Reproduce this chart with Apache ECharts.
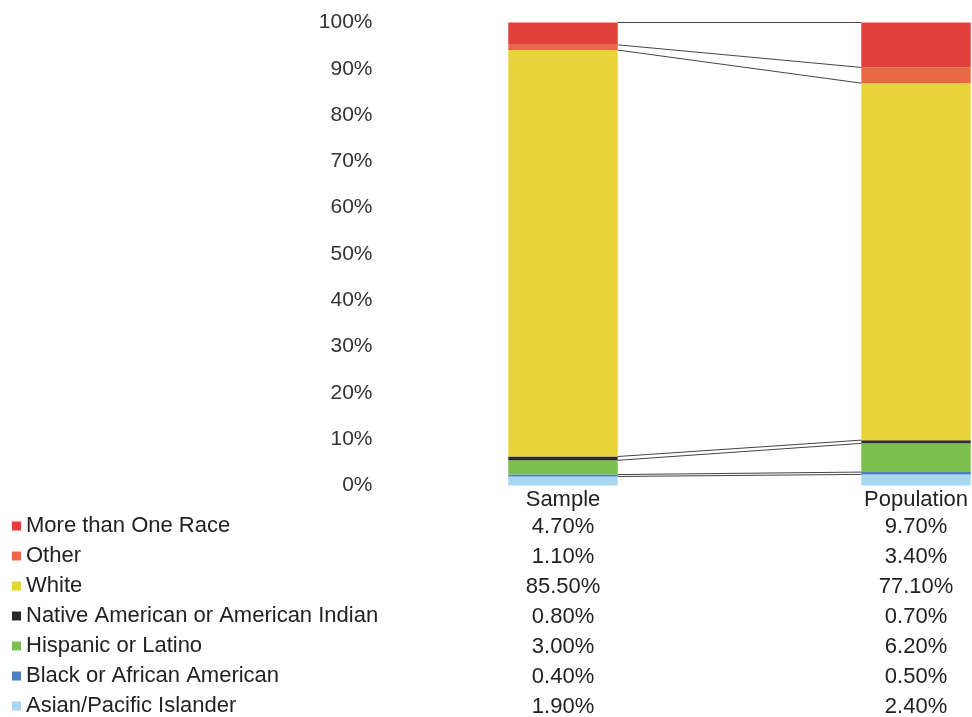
<!DOCTYPE html>
<html><head><meta charset="utf-8">
<script src="https://cdn.jsdelivr.net/npm/echarts@6/dist/echarts.min.js"></script>
<style>html,body{margin:0;padding:0;background:#fff}#c{width:972px;height:717px}</style>
</head><body><div id="c"></div>
<script>
// Data (bottom of stack first)
var categories = ['Sample', 'Population'];
var seriesNames = ['Asian/Pacific Islander', 'Black or African American', 'Hispanic or Latino', 'Native American or American Indian', 'White', 'Other', 'More than One Race'];
var asian = [1.9, 2.4];
var black = [0.4, 0.5];
var hispanic = [3.0, 6.2];
var native = [0.8, 0.7];
var white = [85.5, 77.1];
var other = [1.1, 3.4];
var moreThanOne = [4.7, 9.7];
var yTicks = [0, 10, 20, 30, 40, 50, 60, 70, 80, 90, 100];
var legendOrder = ['More than One Race', 'Other', 'White', 'Native American or American Indian', 'Hispanic or Latino', 'Black or African American', 'Asian/Pacific Islander'];

var raw = [asian, black, hispanic, native, white, other, moreThanOne];
var colors = ['#A9D6F0', '#4A7FC0', '#7CBF4C', '#2A2A2A', '#E6D43A', '#E86A45', '#E2403A'];
var totals = categories.map(function (c, i) { return raw.reduce(function (s, a) { return s + a[i]; }, 0); });
var norm = raw.map(function (a) { return a.map(function (v, i) { return v / totals[i] * 100; }); });

// cumulative boundaries for series lines (top of each segment)
var bounds = [];
var cum = [0, 0];
norm.forEach(function (a) { cum = [cum[0] + a[0], cum[1] + a[1]]; bounds.push([cum[0], cum[1]]); });

var FONT = 'Liberation Sans, Arial, sans-serif';
var BARW = 0.31;
var chart = echarts.init(document.getElementById('c'));
var series = seriesNames.map(function (n, k) {
  return {
    name: n, type: 'bar', stack: 'all', data: norm[k], barWidth: (BARW * 100) + '%',
    itemStyle: { color: colors[k] }, emphasis: { disabled: true }
  };
});
series.push({
  type: 'custom', name: 'lines', data: bounds, z: 5, silent: true,
  renderItem: function (params, api) {
    var band = api.size([1, 0])[0];
    var p1 = api.coord([0, api.value(0)]);
    var p2 = api.coord([1, api.value(1)]);
    return {
      type: 'line',
      shape: { x1: p1[0] + band * BARW / 2, y1: p1[1], x2: p2[0] - band * BARW / 2, y2: p2[1] },
      style: { stroke: '#444', lineWidth: 1 }
    };
  },
  encode: { x: -1, y: [0, 1] }
});

chart.setOption({
  animation: false,
  grid: { left: 386.5, top: 22.5, width: 706, height: 463, outerBoundsMode: 'none', containLabel: false },
  xAxis: {
    type: 'category', data: categories,
    axisLine: { show: false }, axisTick: { show: false },
    axisLabel: { margin: 3, color: '#222', fontSize: 22, fontFamily: FONT }
  },
  yAxis: {
    type: 'value', min: 0, max: 100, interval: 10,
    axisLine: { show: false }, axisTick: { show: false }, splitLine: { show: false },
    axisLabel: { margin: 14, color: '#333', fontSize: 21, fontFamily: FONT, formatter: function (v) { return yTicks.indexOf(v) >= 0 ? v + '%' : ''; } }
  },
  legend: {
    orient: 'vertical', left: 12, top: 515, padding: 0, data: legendOrder,
    icon: 'rect', itemWidth: 9, itemHeight: 9, itemGap: 8, selectedMode: false,
    textStyle: { color: '#222', fontSize: 22, fontFamily: FONT, padding: [2, 0, 0, 0] }
  },
  series: series
});

// data table
var graphics = [];
legendOrder.forEach(function (name, r) {
  var k = seriesNames.indexOf(name);
  categories.forEach(function (c, i) {
    var x = chart.convertToPixel({ xAxisIndex: 0 }, c);
    graphics.push({
      type: 'text', x: x, y: 527 + 30 * r,
      style: { text: raw[k][i].toFixed(2) + '%', fill: '#222', fontSize: 22, fontFamily: FONT, align: 'center', verticalAlign: 'middle' }
    });
  });
});
chart.setOption({ graphic: graphics });
</script></body></html>
